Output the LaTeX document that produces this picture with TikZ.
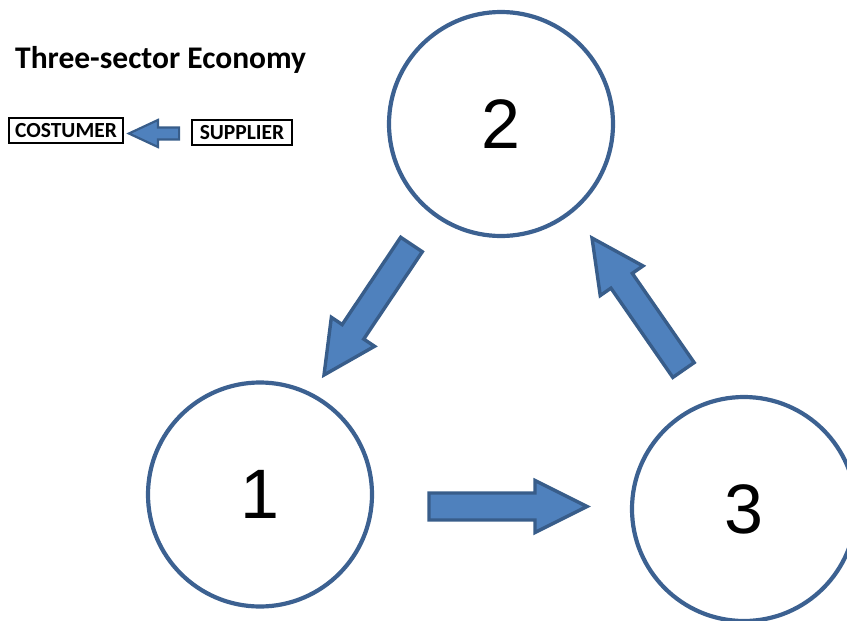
\documentclass[tikz,border=0pt]{standalone}
\usepackage{fontspec}
\setmainfont{Liberation Sans}
\newfontfamily\lgfont{Carlito}
\usetikzlibrary{calc}
\definecolor{ringblue}{HTML}{3C6191}
\definecolor{arrfill}{HTML}{4F81BD}
\definecolor{arredge}{HTML}{385D8A}
% #1 tail, #2 tip, #3 head length, #4 head half width, #5 shaft half width, #6 style
\newcommand{\blockarrow}[6]{%
  \coordinate (#1h) at ($(#2)!#3!(#1)$);
  \draw[#6] ($(#1)!#5!90:(#2)$) -- ($(#1h)!#5!90:(#2)$) -- ($(#1h)!#4!90:(#2)$)
    -- (#2) -- ($(#1h)!#4!-90:(#2)$) -- ($(#1h)!#5!-90:(#2)$) -- ($(#1)!#5!-90:(#2)$) -- cycle;
}
\begin{document}
\begin{tikzpicture}[x=1pt,y=-1pt,
  sector/.style={circle, draw=ringblue, line width=4.2pt, minimum size=224pt, inner sep=0pt,
    font=\fontsize{70}{70}\selectfont},
  bigarrow/.style={fill=arrfill, draw=arredge, line width=3.4pt, line join=miter},
  smallarrow/.style={fill=arrfill, draw=arredge, line width=2.2pt, line join=miter},
  legbox/.style={draw=black, line width=1.8pt, minimum height=25pt, inner sep=0pt,
    font=\lgfont\bfseries\fontsize{21.5}{22}\selectfont}]
\clip (0,0) rectangle (847,621);
\useasboundingbox (0,0) rectangle (847,621);

\node[sector] (n2) at (501,124) {2};
\node[sector] (n1) at (260,494.5) {1};
\node[sector] (n3) at (744,509) {3};

\node[anchor=base west, inner sep=0pt] (title) at (15,68.5)
  {\lgfont\bfseries\fontsize{31.5}{33}\selectfont Three-sector Economy};
\node[legbox, minimum width=114pt] (cust) at (66,130.5) {COSTUMER};
\node[legbox, minimum width=100pt] (supp) at (242,132.5) {SUPPLIER};

\coordinate (lt) at ($(supp.west)+(-12,1)$);
\coordinate (lp) at ($(cust.east)+(5,3)$);
\blockarrow{lt}{lp}{29pt}{13.5pt}{6pt}{smallarrow}

\coordinate (a21t) at (411.5,244.5);
\coordinate (a21p) at (324,375);
\blockarrow{a21t}{a21p}{52pt}{26pt}{13pt}{bigarrow}

\coordinate (a13t) at (429,506.5);
\coordinate (a13p) at (587,506.5);
\blockarrow{a13t}{a13p}{52pt}{26pt}{13.5pt}{bigarrow}

\coordinate (a32t) at (683.5,370);
\coordinate (a32p) at (592,238);
\blockarrow{a32t}{a32p}{52pt}{26pt}{13pt}{bigarrow}
\end{tikzpicture}
\end{document}
